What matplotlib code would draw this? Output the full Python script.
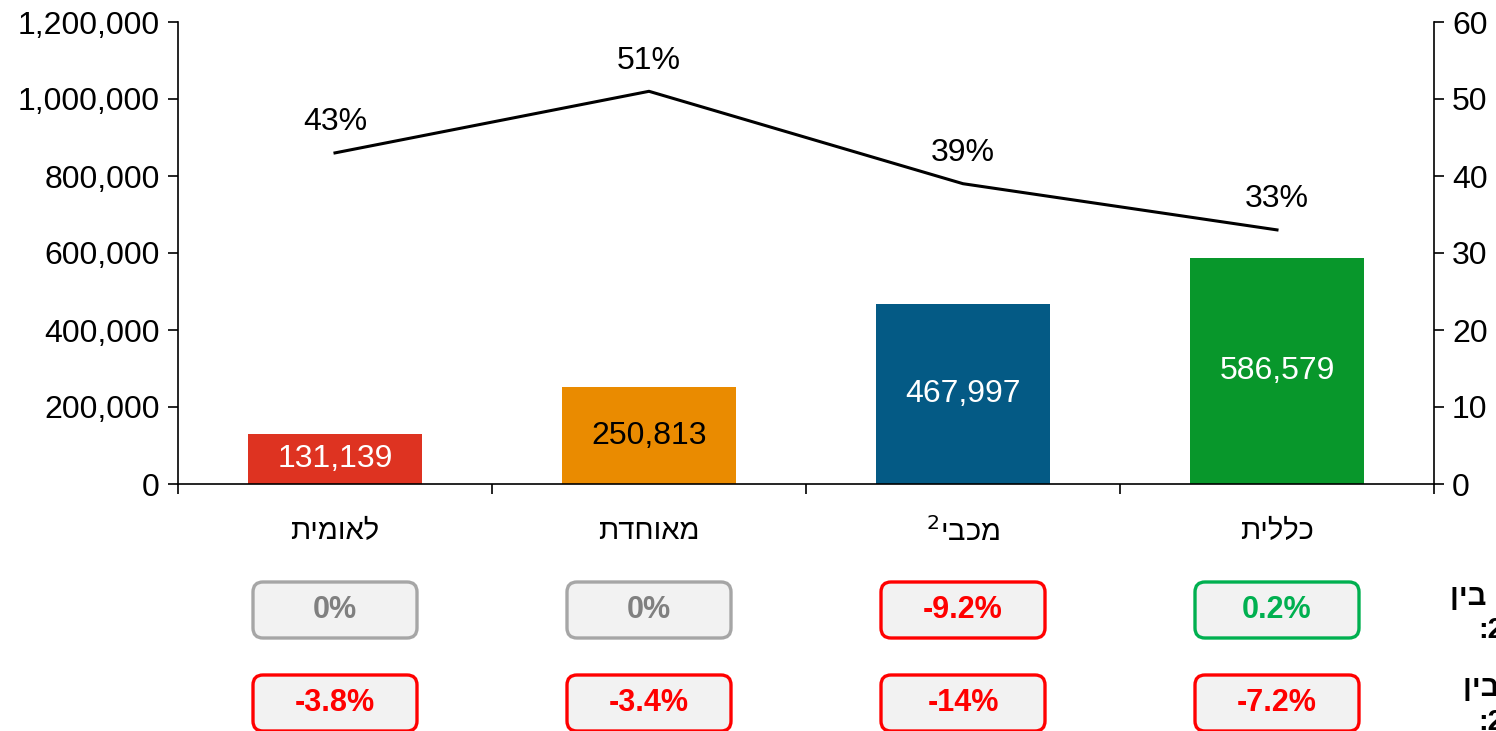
import matplotlib
matplotlib.use("Agg")
import matplotlib.pyplot as plt
from matplotlib.patches import FancyBboxPatch
from matplotlib.ticker import FuncFormatter

plt.rcParams['font.family'] = ['Liberation Sans', 'DejaVu Sans']


def rtl(s):
    # matplotlib draws left to right, so Hebrew is given in visual order
    return s[::-1]


# data
categories = [rtl("לאומית"), rtl("מאוחדת"), "$^{2}$" + rtl("מכבי"), rtl("כללית")]
members = [131139, 250813, 467997, 586579]
share = [43, 51, 39, 33]
change_1 = ["0%", "0%", "-9.2%", "0.2%"]
change_2 = ["-3.8%", "-3.4%", "-14%", "-7.2%"]

bar_colors = ["#DE3321", "#EA8B00", "#045A85", "#08972B"]
label_colors = ["white", "black", "white", "white"]
GRAY, RED, GREEN = "#A6A6A6", "#FF0000", "#00B050"


def box_style(txt):
    v = float(txt.strip('%'))
    if v == 0:
        return GRAY, "#808080"
    if v < 0:
        return RED, RED
    return GREEN, GREEN


W, H = 1496, 731
fig = plt.figure(figsize=(W / 100, H / 100), dpi=100)
ax = fig.add_axes([178 / W, (H - 484) / H, 1256 / W, 462 / H])
ax2 = ax.twinx()

x = list(range(len(categories)))
bars = ax.bar(x, members, width=0.555, color=bar_colors, zorder=2)
for b, v, c in zip(bars, members, label_colors):
    ax.text(b.get_x() + b.get_width() / 2, v / 2, f"{v:,}", ha='center', va='center',
            fontsize=23, color=c, zorder=3)

ax.set_xlim(-0.5, len(categories) - 0.5)
ax.set_ylim(0, 1200000)
ax.set_yticks(range(0, 1200001, 200000))
ax.yaxis.set_major_formatter(FuncFormatter(lambda v, p: f"{int(v):,}"))
ax.set_xticks([i - 0.5 for i in range(len(categories) + 1)])
ax.set_xticklabels([])
ax.set_xticks(x, minor=True)
ax.set_xticklabels(categories, minor=True, fontsize=21)
ax.tick_params(axis='x', which='major', direction='out', length=7, width=1.2)
ax.tick_params(axis='x', which='minor', length=0, pad=24)
ax.tick_params(axis='y', labelsize=23, length=7, width=1.2, pad=6)

ax2.plot(x, share, color='black', lw=2.2, zorder=4)
for xi, s in zip(x, share):
    ax2.annotate(f"{s}%", (xi, s), xytext=(0, 22), textcoords='offset points',
                 ha='center', va='center', fontsize=23)
ax2.set_ylim(0, 60)
ax2.set_yticks(range(0, 61, 10))
ax2.tick_params(axis='y', labelsize=23, length=7, width=1.2, pad=6)

for a in (ax, ax2):
    a.spines['top'].set_visible(False)
    for sp in ('left', 'right', 'bottom'):
        a.spines[sp].set_linewidth(1.2)
ax.spines['right'].set_visible(False)
ax2.spines['left'].set_visible(False)
ax2.spines['bottom'].set_visible(False)

# overlay in pixel units for the change boxes
over = fig.add_axes([0, 0, 1, 1], facecolor='none')
over.set_xlim(0, W)
over.set_ylim(0, H)
over.axis('off')
fig.canvas.draw()
centers = [ax.transData.transform((xi, 0))[0] for xi in x]

bw, bh = 164, 56
for row, yc in ((change_1, H - 610), (change_2, H - 703)):
    for cx, txt in zip(centers, row):
        ec, tc = box_style(txt)
        over.add_patch(FancyBboxPatch((cx - bw / 2, yc - bh / 2), bw, bh,
                                      boxstyle="round,pad=0,rounding_size=10",
                                      fc="#F2F2F2", ec=ec, lw=2.4))
        over.text(cx, yc, txt, ha='center', va='center', fontsize=22,
                  fontweight='bold', color=tc)

# row titles, cut by the right edge of the picture
fig.text(1450 / W, (H - 597) / H, rtl("שינוי: בין"), ha='left', va='center',
         fontsize=21, fontweight='bold')
fig.text(1478 / W, (H - 630) / H, ":2022-2023", ha='left', va='center',
         fontsize=21, fontweight='bold')
fig.text(1463 / W, (H - 688) / H, rtl("שינוי בין"), ha='left', va='center',
         fontsize=21, fontweight='bold')
fig.text(1478 / W, (H - 722) / H, ":2019-2023", ha='left', va='center',
         fontsize=21, fontweight='bold')

fig.savefig("out.png", dpi=100)
